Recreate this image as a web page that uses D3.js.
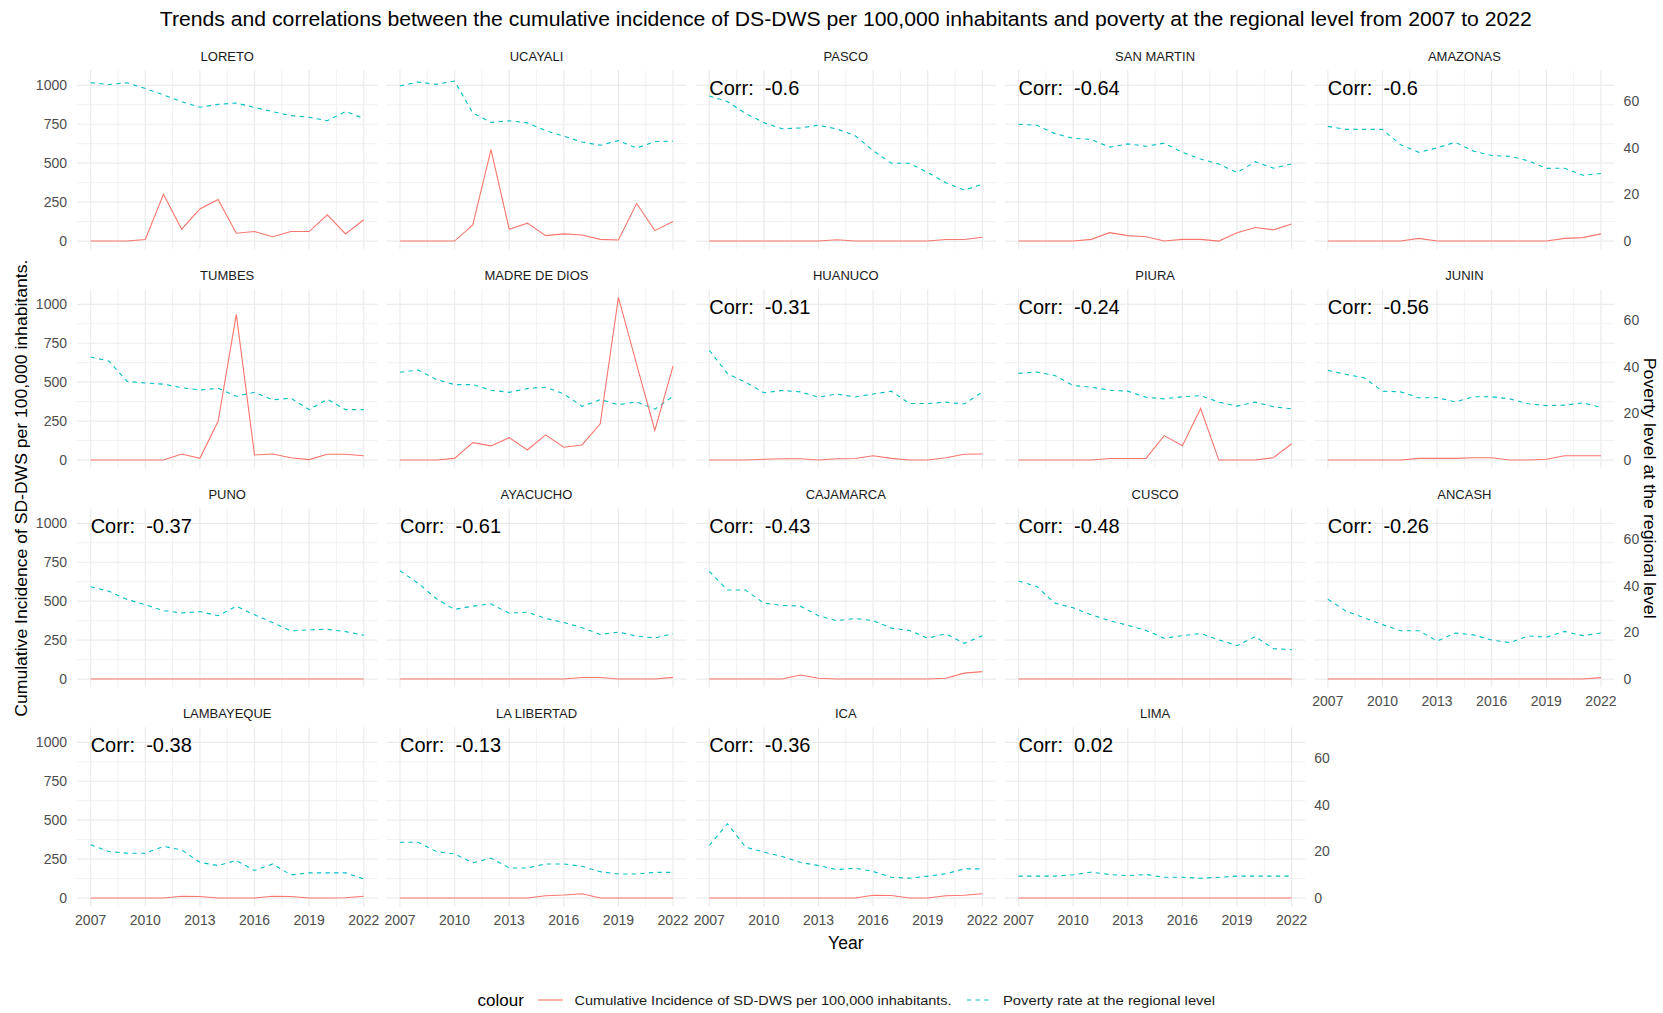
<!DOCTYPE html>
<html>
<head>
<meta charset="utf-8">
<script src="https://cdn.jsdelivr.net/npm/d3@7/dist/d3.min.js"></script>
<style>
  body { margin: 0; background: #fff; }
  svg { font-family: 'Liberation Sans', Arial, sans-serif; display: block; }
</style>
</head>
<body>
<svg id="chart"></svg>
<script>
const years = [2007, 2008, 2009, 2010, 2011, 2012, 2013, 2014, 2015, 2016, 2017, 2018, 2019, 2020, 2021, 2022];
const xTicks = [2007, 2010, 2013, 2016, 2019, 2022];
const yTicks = [0, 250, 500, 750, 1000];
const secTicks = [0, 20, 40, 60];

const regions = ['LORETO', 'UCAYALI', 'PASCO', 'SAN MARTIN', 'AMAZONAS',
  'TUMBES', 'MADRE DE DIOS', 'HUANUCO', 'PIURA', 'JUNIN',
  'PUNO', 'AYACUCHO', 'CAJAMARCA', 'CUSCO', 'ANCASH',
  'LAMBAYEQUE', 'LA LIBERTAD', 'ICA', 'LIMA'];

// correlation labels (blank where the plot shows none)
const corrs = [null, null, '-0.6', '-0.64', '-0.6',
  null, null, '-0.31', '-0.24', '-0.56',
  '-0.37', '-0.61', '-0.43', '-0.48', '-0.26',
  '-0.38', '-0.13', '-0.36', '0.02'];

// cumulative incidence per 100,000
const incLoreto = [0, 0, 0, 10, 300, 76, 206, 267, 50, 61, 28, 61, 61, 169, 46, 137];
const incUcayali = [0, 0, 0, 0, 104, 587, 76, 115, 35, 46, 39, 11, 7, 241, 67, 126];
const incPasco = [0, 0, 0, 0, 0, 0, 0, 8, 0, 0, 0, 0, 0, 10, 10, 25];
const incSanMartin = [0, 0, 0, 0, 11, 54, 35, 28, 0, 11, 11, 0, 54, 87, 72, 110];
const incAmazonas = [0, 0, 0, 0, 0, 17, 0, 0, 0, 0, 0, 0, 0, 17, 22, 46];
const incTumbes = [0, 0, 0, 0, 0, 39, 11, 249, 936, 33, 39, 15, 3, 37, 37, 28];
const incMadreDeDios = [0, 0, 0, 11, 112, 91, 144, 65, 162, 82, 97, 233, 1045, 615, 190, 603];
const incHuanuco = [0, 0, 0, 5, 8, 8, 0, 8, 10, 28, 11, 0, 0, 15, 37, 39];
const incPiura = [0, 0, 0, 0, 0, 10, 10, 11, 157, 92, 331, 0, 0, 0, 15, 105];
const incJunin = [0, 0, 0, 0, 0, 11, 11, 11, 15, 15, 0, 0, 5, 28, 28, 28];
const incPuno = [0, 0, 0, 0, 0, 0, 0, 0, 0, 0, 0, 0, 0, 0, 0, 0];
const incAyacucho = [0, 0, 0, 0, 0, 0, 0, 0, 0, 0, 10, 10, 0, 0, 0, 11];
const incCajamarca = [0, 0, 0, 0, 0, 26, 5, 0, 0, 0, 0, 0, 0, 5, 38, 48];
const incCusco = [0, 0, 0, 0, 0, 0, 0, 0, 0, 0, 0, 0, 0, 0, 0, 0];
const incAncash = [0, 0, 0, 0, 0, 0, 0, 0, 0, 0, 0, 0, 0, 0, 0, 9];
const incLambayeque = [0, 0, 0, 0, 0, 12, 10, 0, 0, 0, 12, 10, 0, 0, 2, 12];
const incLaLibertad = [0, 0, 0, 0, 0, 0, 0, 0, 15, 20, 28, 0, 0, 0, 0, 0];
const incIca = [0, 0, 0, 0, 0, 0, 0, 0, 0, 18, 16, 0, 0, 15, 18, 28];
const incLima = [0, 0, 0, 0, 0, 0, 0, 0, 0, 0, 0, 0, 0, 0, 0, 0];

// poverty rate (%)
const povLoreto = [67.8, 67, 67.8, 65.3, 62.6, 59.7, 57.3, 58.5, 59.1, 57.2, 55.4, 53.7, 53, 51.5, 55.5, 52.5];
const povUcayali = [66.4, 68.1, 67.1, 68.5, 54.8, 50.8, 51.5, 50.6, 47.3, 44.9, 42.4, 41, 43, 39.8, 42.6, 42.8];
const povPasco = [62.1, 59.7, 54.6, 50.7, 48.1, 48.4, 49.6, 48, 45.2, 38.7, 33.3, 33.3, 29.3, 25, 21.8, 24.3];
const povSanMartin = [50, 49.6, 46, 44, 43.5, 40.2, 41.6, 40.6, 41.9, 38, 35.1, 33, 29.3, 34, 31.2, 33];
const povAmazonas = [49.1, 47.8, 47.8, 47.8, 41.2, 38, 39.9, 42.3, 38.5, 36.6, 36.3, 34.4, 31.1, 31.2, 28.2, 28.9];
const povTumbes = [44.1, 42.4, 33.7, 33, 32.5, 31, 30, 30.7, 27.3, 29, 25.8, 26.5, 21.6, 26, 21.6, 21.6];
const povMadreDeDios = [37.6, 38.5, 34.5, 32.3, 32.3, 29.9, 29, 30.6, 31.2, 28.3, 23, 25.9, 23.7, 24.9, 21.8, 27.3];
const povHuanuco = [47, 37, 33.3, 28.8, 29.8, 29.2, 26.9, 28.3, 27, 28.3, 29.5, 24.2, 24.2, 24.8, 24, 29.1];
const povPiura = [37.1, 37.7, 36.2, 31.9, 31.2, 29.9, 29.5, 26.9, 26.2, 27.1, 27.6, 24.8, 23.1, 24.8, 22.8, 21.9];
const povJunin = [38.4, 36.7, 35.2, 29.5, 29.2, 26.7, 26.7, 24.9, 27.1, 27.1, 26.2, 24.1, 23.3, 23.5, 24.5, 22.6];
const povPuno = [39.5, 37.6, 34.1, 31.8, 29.3, 28.3, 28.9, 27.1, 31.2, 27.5, 24.2, 20.6, 21.1, 21.3, 20.3, 18.8];
const povAyacucho = [46.4, 41, 34.4, 29.8, 31.2, 32.2, 28.2, 28.6, 26, 24.2, 22, 19.1, 20.1, 18.4, 17.6, 19.4];
const povCajamarca = [46.1, 38.1, 38.1, 32.5, 31.5, 31.3, 27.1, 25, 25.9, 25, 21.8, 20.8, 17.5, 19.4, 15.3, 18.5];
const povCusco = [42, 39.6, 32.5, 30.5, 27.5, 25, 23, 20.8, 17.5, 18.6, 19.5, 16.8, 14.3, 18.2, 13, 12.6];
const povAncash = [34.2, 29.1, 26.2, 23.3, 20.7, 20.7, 16.3, 19.7, 18.9, 16.7, 15.6, 18.5, 17.9, 20.4, 18.6, 19.7];
const povLambayeque = [22.8, 19.9, 19.2, 19.2, 22.1, 20.6, 15.3, 13.9, 16.1, 11.8, 14.6, 9.9, 10.8, 10.8, 10.8, 8.2];
const povLaLibertad = [23.9, 23.9, 19.9, 18.9, 15.1, 17.1, 12.9, 12.9, 14.6, 14.6, 13.6, 11.3, 10.3, 10.3, 11, 11];
const povIca = [22.5, 31.8, 21.8, 19.7, 17.8, 15.3, 13.9, 12.2, 12.8, 11.4, 8.9, 8.5, 9.4, 10.4, 12.5, 12.5];
const povLima = [9.4, 9.4, 9.4, 10, 11.1, 10.1, 9.6, 10.1, 8.9, 8.9, 8.5, 8.9, 9.4, 9.4, 9.4, 9.4];

const incidence = [incLoreto, incUcayali, incPasco, incSanMartin, incAmazonas,
  incTumbes, incMadreDeDios, incHuanuco, incPiura, incJunin,
  incPuno, incAyacucho, incCajamarca, incCusco, incAncash,
  incLambayeque, incLaLibertad, incIca, incLima];
const poverty = [povLoreto, povUcayali, povPasco, povSanMartin, povAmazonas,
  povTumbes, povMadreDeDios, povHuanuco, povPiura, povJunin,
  povPuno, povAyacucho, povCajamarca, povCusco, povAncash,
  povLambayeque, povLaLibertad, povIca, povLima];

const secFactor = 15;   // sec_axis(~ . / 15)
const red = '#F8766D';
const cyan = '#00BFC4';
const gridCol = '#EBEBEB';

const width = 1663;
const height = 1013;
const nCol = 5;
const panelLeft = 77;
const panelTop = 70.2;
const panelW = 300.4;
const panelH = 179;
const colStep = 309.3;
const rowStep = 219;

const svg = d3.select('#chart').attr('width', width).attr('height', height);

// shared scales, ggplot style 5% expansion
const xPad = (years[years.length - 1] - years[0]) * 0.05;
const x = d3.scaleLinear()
  .domain([years[0] - xPad, years[years.length - 1] + xPad])
  .range([0, panelW]);

const allVals = incidence.flat().concat(poverty.flat().map(v => v * secFactor));
const yMax = d3.max(allVals);
const yMin = Math.min(0, d3.min(allVals));
const yPad = (yMax - yMin) * 0.05;
const y = d3.scaleLinear().domain([yMin - yPad, yMax + yPad]).range([panelH, 0]);
const ySec = d3.scaleLinear().domain(y.domain().map(v => v / secFactor)).range([panelH, 0]);

const xMinor = xTicks.slice(1).map((t, i) => (t + xTicks[i]) / 2);
const yMinor = yTicks.slice(1).map((t, i) => (t + yTicks[i]) / 2);

const incLine = d3.line().x((d, i) => x(years[i])).y(d => y(d));
const povLine = d3.line().x((d, i) => x(years[i])).y(d => ySec(d));

regions.forEach((name, idx) => {
  const col = idx % nCol;
  const row = Math.floor(idx / nCol);
  const g = svg.append('g')
    .attr('transform', `translate(${panelLeft + col * colStep}, ${panelTop + row * rowStep})`);

  // grid
  g.selectAll('.vminor').data(xMinor).enter().append('line')
    .attr('x1', d => x(d)).attr('x2', d => x(d)).attr('y1', 0).attr('y2', panelH)
    .attr('stroke', gridCol).attr('stroke-width', 0.7);
  g.selectAll('.hminor').data(yMinor).enter().append('line')
    .attr('x1', 0).attr('x2', panelW).attr('y1', d => y(d)).attr('y2', d => y(d))
    .attr('stroke', gridCol).attr('stroke-width', 0.7);
  g.selectAll('.vmajor').data(xTicks).enter().append('line')
    .attr('x1', d => x(d)).attr('x2', d => x(d)).attr('y1', 0).attr('y2', panelH)
    .attr('stroke', gridCol).attr('stroke-width', 1.2);
  g.selectAll('.hmajor').data(yTicks).enter().append('line')
    .attr('x1', 0).attr('x2', panelW).attr('y1', d => y(d)).attr('y2', d => y(d))
    .attr('stroke', gridCol).attr('stroke-width', 1.2);

  // series
  g.append('path')
    .attr('d', povLine(poverty[idx]))
    .attr('fill', 'none').attr('stroke', cyan).attr('stroke-width', 1.1)
    .attr('stroke-dasharray', '4.3,4.3');
  g.append('path')
    .attr('d', incLine(incidence[idx]))
    .attr('fill', 'none').attr('stroke', red).attr('stroke-width', 1.1);

  // strip
  g.append('text')
    .attr('x', panelW / 2).attr('y', -14)
    .attr('text-anchor', 'middle').attr('dominant-baseline', 'central')
    .attr('font-size', '13px').attr('fill', '#1A1A1A')
    .text(name);

  if (corrs[idx] !== null) {
    g.append('text')
      .attr('x', x(years[0])).attr('y', y(985))
      .attr('dominant-baseline', 'central')
      .attr('font-size', '20px').attr('fill', '#000')
      .style('white-space', 'pre')
      .text('Corr:  ' + corrs[idx]);
  }

  // left axis on first column
  if (col === 0) {
    g.selectAll('.ylab').data(yTicks).enter().append('text')
      .attr('x', -10).attr('y', d => y(d))
      .attr('text-anchor', 'end').attr('dominant-baseline', 'central')
      .attr('font-size', '14px').attr('fill', '#4D4D4D')
      .text(d => d);
  }

  // bottom axis on lowest panel of each column
  const lastIdx = regions.length - 1;
  if (idx + nCol > lastIdx) {
    g.selectAll('.xlab').data(xTicks).enter().append('text')
      .attr('x', d => x(d)).attr('y', panelH + 14)
      .attr('text-anchor', 'middle').attr('dominant-baseline', 'central')
      .attr('font-size', '14px').attr('fill', '#4D4D4D')
      .text(d => d);
  }

  // secondary axis on last panel of each row
  if (col === nCol - 1 || idx === lastIdx) {
    g.selectAll('.slab').data(secTicks).enter().append('text')
      .attr('x', panelW + 9).attr('y', d => ySec(d))
      .attr('dominant-baseline', 'central')
      .attr('font-size', '14px').attr('fill', '#4D4D4D')
      .text(d => d);
  }
});

const plotCx = panelLeft + ((nCol - 1) * colStep + panelW) / 2;
const plotCy = panelTop + (3 * rowStep + panelH) / 2;

svg.append('text')
  .attr('x', plotCx).attr('y', 18)
  .attr('text-anchor', 'middle').attr('dominant-baseline', 'central')
  .attr('font-size', '20.5px').attr('fill', '#000')
  .attr('textLength', 1372).attr('lengthAdjust', 'spacingAndGlyphs')
  .text('Trends and correlations between the cumulative incidence of DS-DWS per 100,000 inhabitants and poverty at the regional level from 2007 to 2022');

svg.append('text')
  .attr('x', plotCx).attr('y', 942.5)
  .attr('text-anchor', 'middle').attr('dominant-baseline', 'central')
  .attr('font-size', '17.5px').attr('fill', '#000')
  .text('Year');

svg.append('text')
  .attr('transform', `translate(21, ${plotCy}) rotate(-90)`)
  .attr('text-anchor', 'middle').attr('dominant-baseline', 'central')
  .attr('font-size', '16.5px').attr('fill', '#000')
  .attr('textLength', 457).attr('lengthAdjust', 'spacingAndGlyphs')
  .text('Cumulative Incidence of SD-DWS per 100,000 inhabitants.');

svg.append('text')
  .attr('transform', `translate(1650, ${plotCy}) rotate(90)`)
  .attr('text-anchor', 'middle').attr('dominant-baseline', 'central')
  .attr('font-size', '16.5px').attr('fill', '#000')
  .attr('textLength', 261).attr('lengthAdjust', 'spacingAndGlyphs')
  .text('Poverty level at the regional level');

// legend
const legY = 1000;
const legend = svg.append('g');
legend.append('text')
  .attr('x', 477.6).attr('y', legY)
  .attr('dominant-baseline', 'central')
  .attr('font-size', '17px').attr('fill', '#000')
  .text('colour');

const legItems = [
  { label: 'Cumulative Incidence of SD-DWS per 100,000 inhabitants.', color: red, dash: null, x0: 538, tx: 574.6, w: 377 },
  { label: 'Poverty rate at the regional level', color: cyan, dash: '4.3,4.3', x0: 967, tx: 1003, w: 212 }
];
legItems.forEach(d => {
  legend.append('line')
    .attr('x1', d.x0).attr('x2', d.x0 + 25).attr('y1', legY).attr('y2', legY)
    .attr('stroke', d.color).attr('stroke-width', 1.1)
    .attr('stroke-dasharray', d.dash);
  legend.append('text')
    .attr('x', d.tx).attr('y', legY)
    .attr('dominant-baseline', 'central')
    .attr('font-size', '13.5px').attr('fill', '#1A1A1A')
    .attr('textLength', d.w).attr('lengthAdjust', 'spacingAndGlyphs')
    .text(d.label);
});
</script>
</body>
</html>
